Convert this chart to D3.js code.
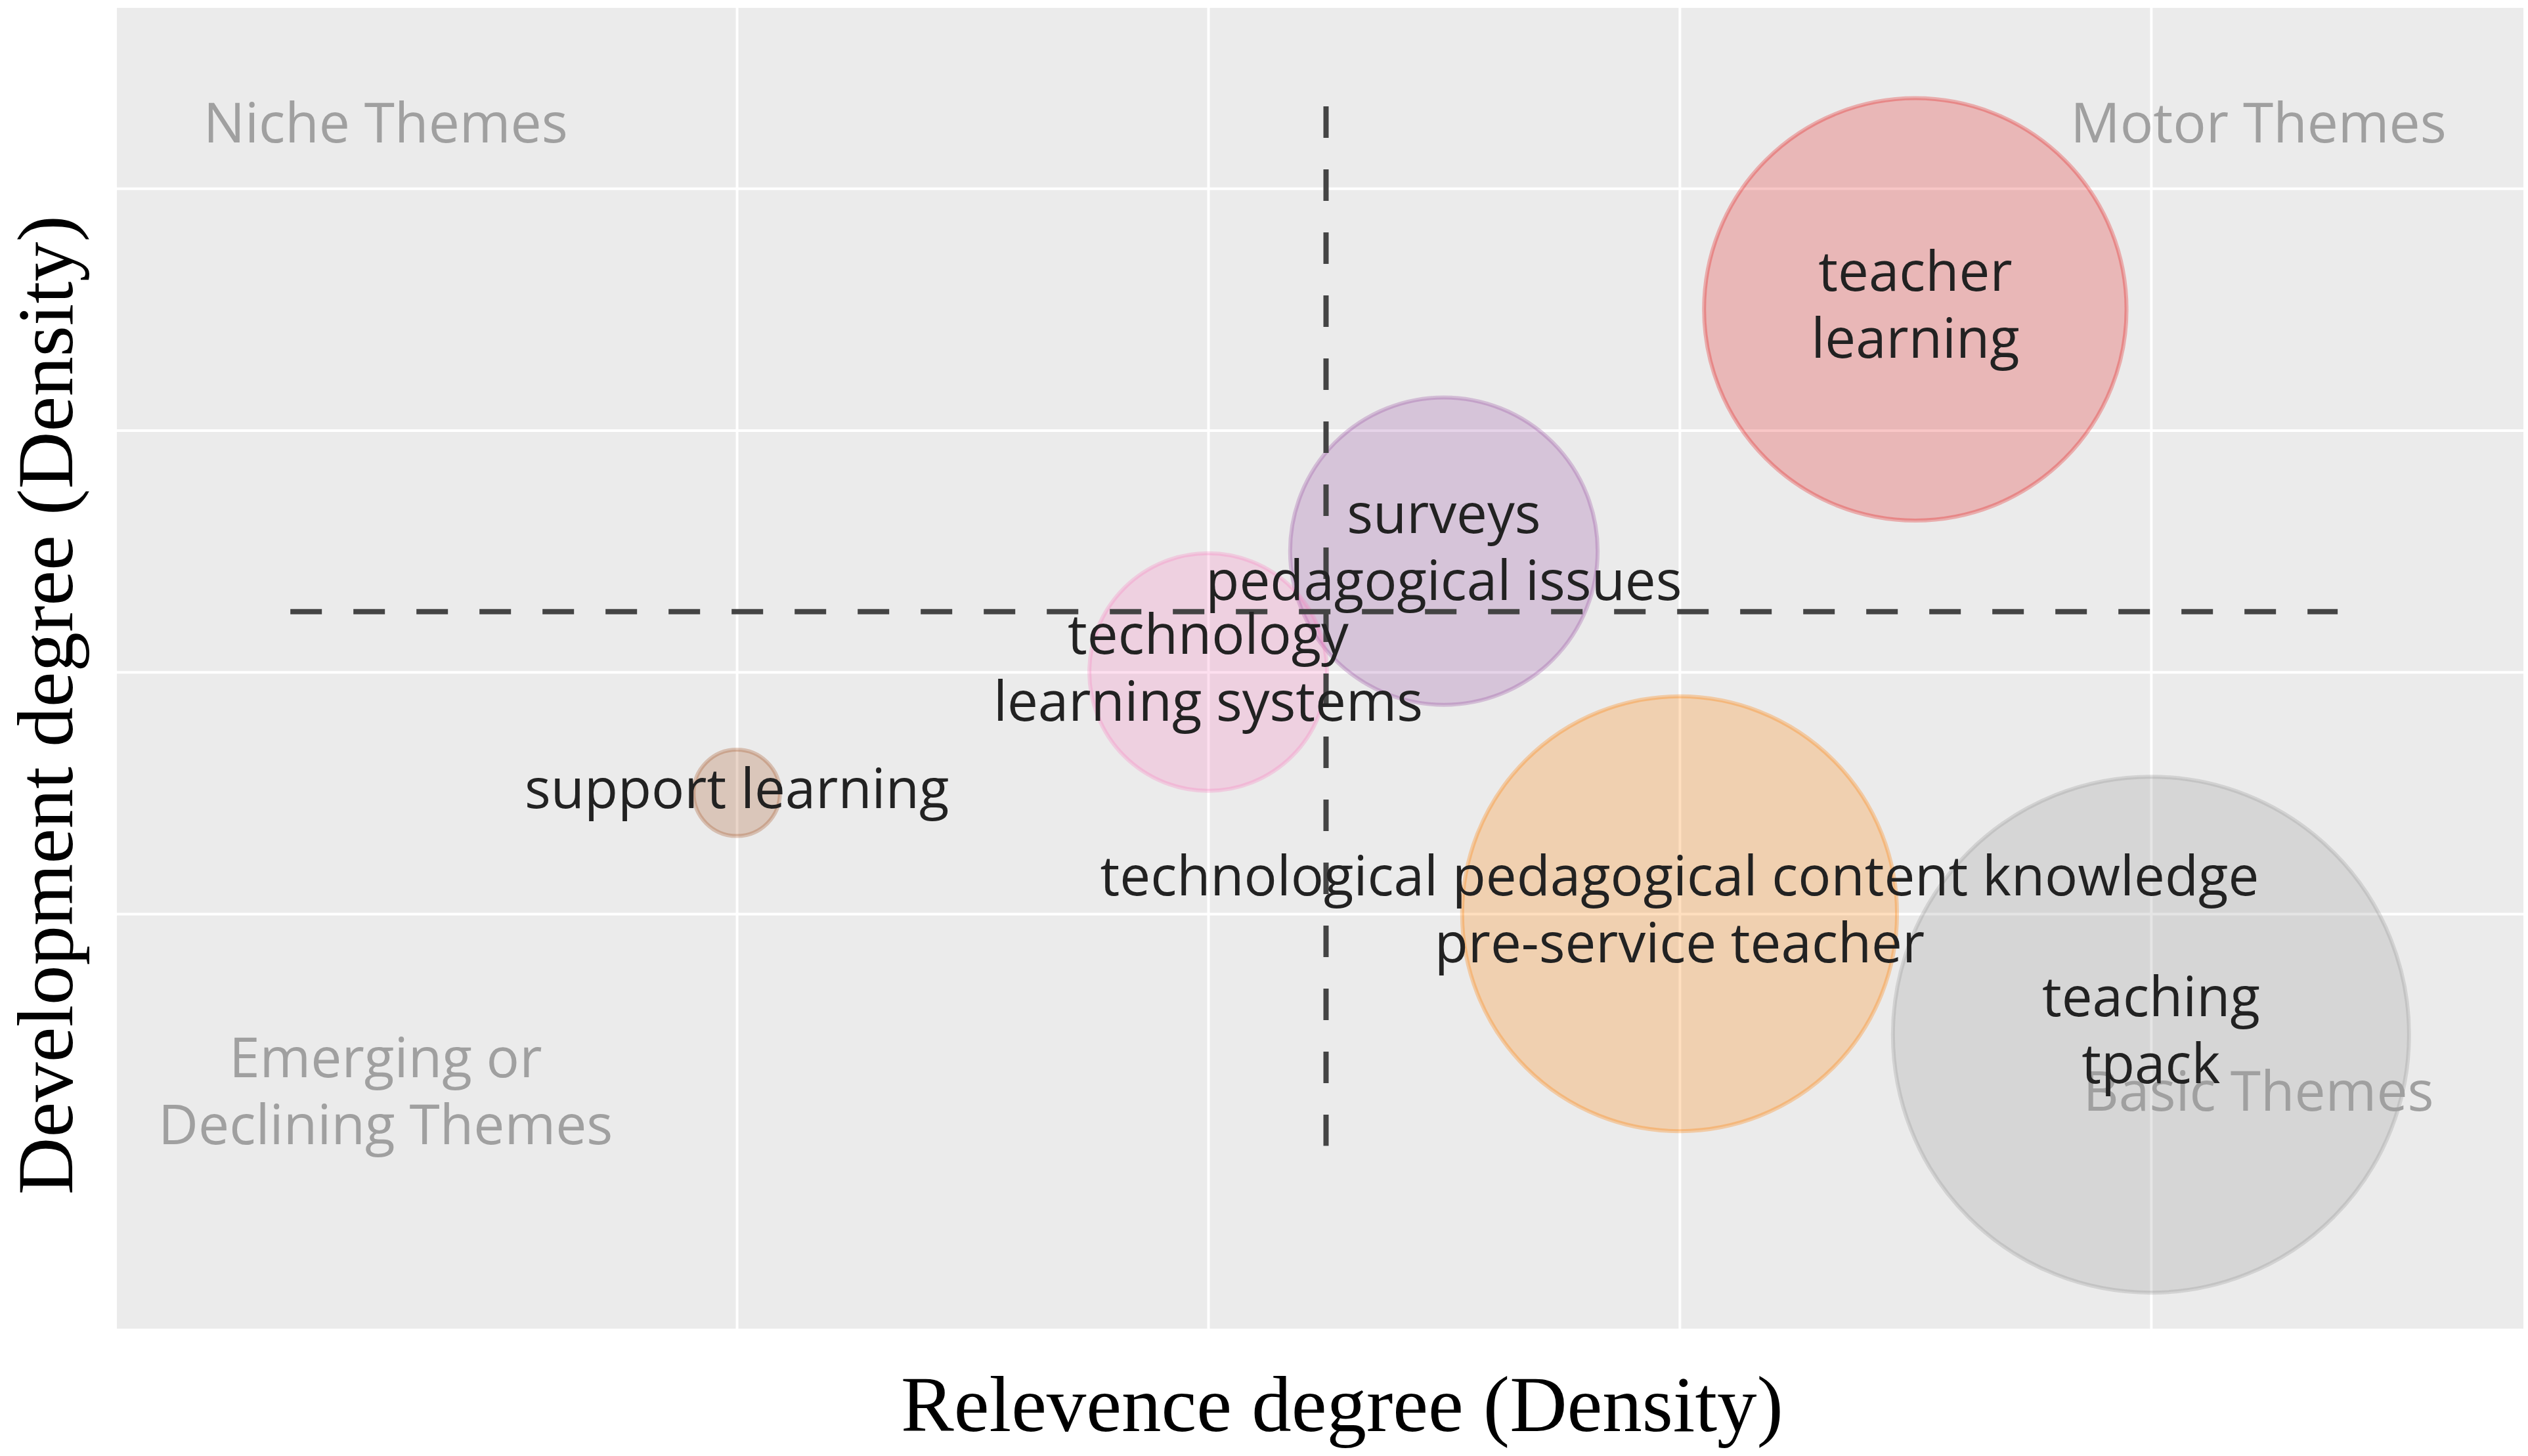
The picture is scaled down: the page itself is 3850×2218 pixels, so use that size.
<!DOCTYPE html>
<html>
<head>
<meta charset="utf-8">
<script src="https://cdn.jsdelivr.net/npm/d3@7"></script>
<style>
  html, body { margin: 0; padding: 0; background: #ffffff; }
  svg { display: block; }
</style>
</head>
<body>
<svg id="chart" width="3850" height="2218"></svg>
<script>
// ---------------- DATA ----------------
const themeLabels = [
  ["teacher", "learning"],
  ["surveys", "pedagogical issues"],
  ["technology", "learning systems"],
  ["support learning"],
  ["technological pedagogical content knowledge", "pre-service teacher"],
  ["teaching", "tpack"]
];
const centrality = [3.5, 2.5, 2.0, 1.0, 3.0, 4.0];   // relevance degree (x)
const density    = [3.5, 2.5, 2.0, 1.5, 1.0, 0.5];   // development degree (y)
const frequency  = [67, 35.5, 21.2, 2.8, 71, 100];    // bubble size
const themeColors = ["#E41A1C", "#984EA3", "#F781BF", "#A65628", "#FF7F00", "#999999"];

const xTicks = [1, 2, 3, 4];
const yTicks = [1, 2, 3, 4];
const xDomain = [-0.315, 4.79];
const yDomain = [-0.716, 4.747];

const vLineX = 2.25, vLineY = [0.04, 4.34];
const hLineY = 2.25, hLineX = [0.053, 4.396];

const quadrantNames = [["Niche Themes"], ["Motor Themes"], ["Emerging or", "Declining Themes"], ["Basic Themes"]];
const quadrantX = [0.255, 4.228, 0.255, 4.228];
const quadrantY = [4.255, 4.255, 0.25, 0.25];

const xTitle = "Relevence degree (Density)";
const yTitle = "Development degree (Density)";

// ---------------- LAYOUT ----------------
const panel = { left: 178, right: 3843, top: 12, bottom: 2024 };
const svg = d3.select("#chart");

const x = d3.scaleLinear().domain(xDomain).range([panel.left, panel.right]);
const y = d3.scaleLinear().domain(yDomain).range([panel.bottom, panel.top]);
const r = d3.scaleSqrt().domain([0, 100]).range([0, 393]);

// panel background
svg.append("rect")
  .attr("x", panel.left).attr("y", panel.top)
  .attr("width", panel.right - panel.left).attr("height", panel.bottom - panel.top)
  .attr("fill", "#EBEBEB");

// gridlines via axes
const gx = svg.append("g")
  .attr("transform", `translate(0,${panel.bottom})`)
  .call(d3.axisBottom(x).tickValues(xTicks).tickSize(-(panel.bottom - panel.top)).tickFormat(""));
gx.select(".domain").remove();
gx.selectAll("line").attr("stroke", "#FFFFFF").attr("stroke-width", 4);

const gy = svg.append("g")
  .attr("transform", `translate(${panel.left},0)`)
  .call(d3.axisLeft(y).tickValues(yTicks).tickSize(-(panel.right - panel.left)).tickFormat(""));
gy.select(".domain").remove();
gy.selectAll("line").attr("stroke", "#FFFFFF").attr("stroke-width", 4);

// bubbles
const idx = d3.range(themeLabels.length);
svg.append("g").selectAll("circle")
  .data(idx)
  .join("circle")
  .attr("cx", i => x(centrality[i]))
  .attr("cy", i => y(density[i]))
  .attr("r", i => r(frequency[i]))
  .attr("fill", i => themeColors[i])
  .attr("fill-opacity", 0.25)
  .attr("stroke", i => themeColors[i])
  .attr("stroke-opacity", 0.3)
  .attr("stroke-width", 6);

// dashed quadrant lines
const dashStyle = sel => sel.attr("stroke", "#444444").attr("stroke-width", 8).attr("stroke-dasharray", "48,48").attr("fill", "none");
svg.append("line")
  .attr("x1", x(vLineX)).attr("x2", x(vLineX))
  .attr("y1", y(vLineY[1])).attr("y2", y(vLineY[0]))
  .call(dashStyle);
svg.append("line")
  .attr("x1", x(hLineX[0])).attr("x2", x(hLineX[1]))
  .attr("y1", y(hLineY)).attr("y2", y(hLineY))
  .call(dashStyle);

const fs = 83.5, lineH = 102;
function multiline(g, lines, cx, cy, color, size) {
  const t = g.append("text")
    .attr("x", cx)
    .attr("text-anchor", "middle")
    .attr("font-family", "'Open Sans', 'Noto Sans', sans-serif")
    .attr("font-size", size)
    .attr("fill", color);
  lines.forEach((ln, k) => {
    t.append("tspan")
      .attr("x", cx)
      .attr("y", cy + (k - (lines.length - 1) / 2) * lineH + 0.35 * size - 6)
      .text(ln);
  });
}

// quadrant labels
const gq = svg.append("g");
quadrantNames.forEach((lines, i) => multiline(gq, lines, x(quadrantX[i]), y(quadrantY[i]), "#A0A0A0", 84));

// theme labels
const gl = svg.append("g");
idx.forEach(i => multiline(gl, themeLabels[i], x(centrality[i]), y(density[i]), "#222222", fs));

// axis titles
svg.append("text")
  .attr("x", 2044).attr("y", 2180)
  .attr("text-anchor", "middle")
  .attr("font-family", "'Liberation Serif', 'Times New Roman', serif")
  .attr("font-size", 121)
  .attr("fill", "#000")
  .text(xTitle);

svg.append("text")
  .attr("transform", "translate(110,1074) rotate(-90)")
  .attr("text-anchor", "middle")
  .attr("font-family", "'Liberation Serif', 'Times New Roman', serif")
  .attr("font-size", 121)
  .attr("fill", "#000")
  .text(yTitle);
</script>
</body>
</html>
